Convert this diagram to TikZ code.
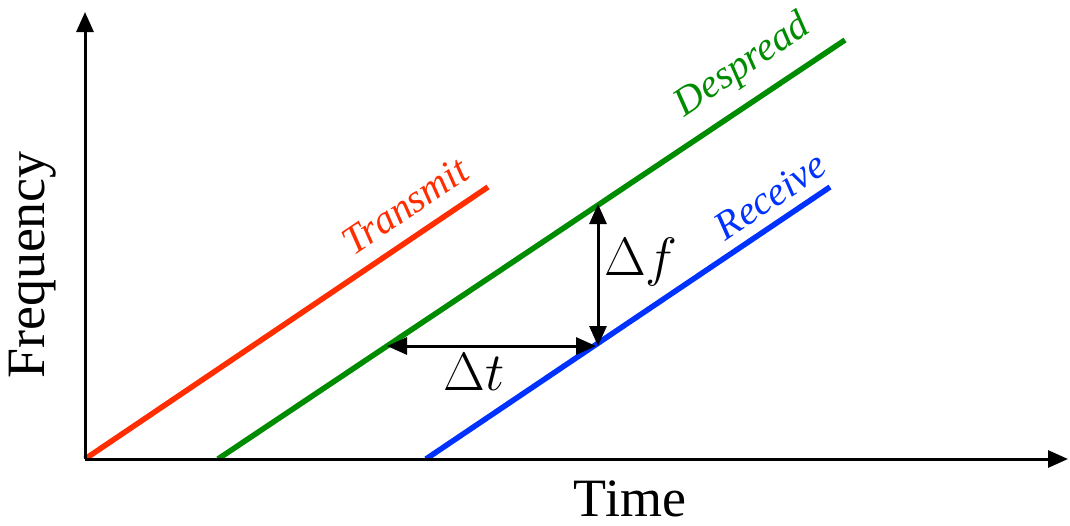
\RequirePackage{fix-cm}
\documentclass[tikz,border=0pt]{standalone}
\usepackage{fontspec}
\setmainfont{Liberation Serif}
\usetikzlibrary{arrows.meta}
\definecolor{txred}{RGB}{255,45,0}
\definecolor{dsgreen}{RGB}{0,140,0}
\definecolor{rxblue}{RGB}{0,50,255}
\begin{document}
\begin{tikzpicture}[x=1pt,y=-1pt,
  axis/.style={line width=3pt,-{Triangle[length=20pt,width=17pt]}},
  chirp/.style={line width=5.5pt},
  dim/.style={line width=3pt,{Triangle[length=20pt,width=17pt]}-{Triangle[length=20pt,width=17pt]}},
  lbl/.style={font=\fontsize{40}{40}\selectfont\itshape, rotate=34, inner sep=0pt},
  big/.style={font=\fontsize{54}{54}\selectfont, inner sep=0pt}]
\useasboundingbox (0,0) rectangle (1070,525);
% coordinates
\coordinate (O) at (85,459);
\coordinate (ytop) at (85,12);
\coordinate (xend) at (1068,459);
\coordinate (r0) at (85,459);
\coordinate (r1) at (488,187);
\coordinate (g0) at (218,459);
\coordinate (g1) at (845,40);
\coordinate (b0) at (426,459);
\coordinate (b1) at (830,187);
\coordinate (tL) at (387,346);
\coordinate (tR) at (596,346);
\coordinate (fB) at (598,346);
\coordinate (fT) at (598,204);
% lines
\draw[chirp, txred] (r0) -- (r1);
\draw[chirp, dsgreen] (g0) -- (g1);
\draw[chirp, rxblue] (b0) -- (b1);
\draw[axis] (O) -- (ytop);
\draw[axis] (O) -- (xend);
\draw[dim] (tL) -- (tR);
\draw[dim] (fB) -- (fT);
% labels
\node[lbl, txred] (ltx) at (405,206) {Transmit};
\node[lbl, dsgreen] (lds) at (743,66) {Despread};
\node[lbl, rxblue] (lrx) at (770,196) {Receive};
\node[big] (ldf) at (641,262) {$\Delta f$};
\node[big] (ldt) at (474,372) {$\Delta t$};
\node[big, rotate=90] (lfreq) at (33,265) {Frequency};
\node[big] (ltime) at (630,499) {Time};
\end{tikzpicture}
\end{document}
